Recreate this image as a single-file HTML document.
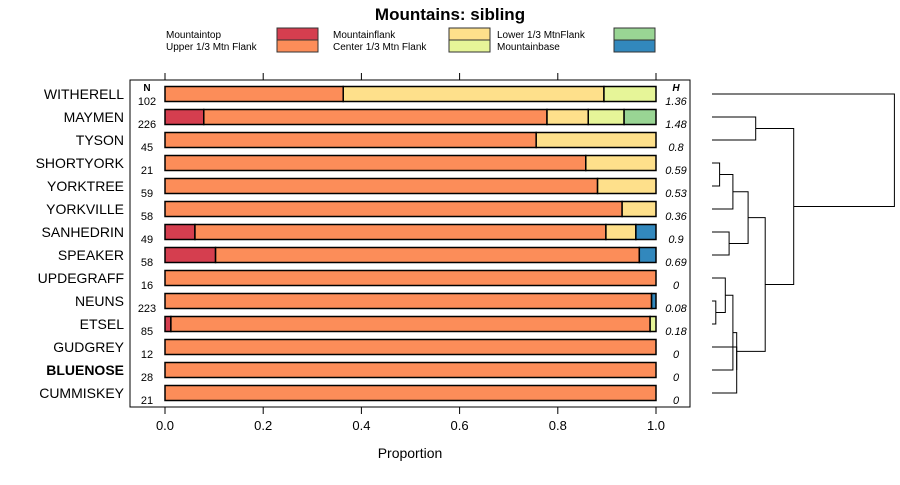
<!DOCTYPE html>
<html><head><meta charset="utf-8"><style>
body{margin:0;background:#fff;font-family:"Liberation Sans",sans-serif;}
</style></head><body>
<svg id="chart" width="900" height="480" xmlns="http://www.w3.org/2000/svg" font-family="Liberation Sans, sans-serif">
<text x="450" y="20" text-anchor="middle" font-size="17" font-weight="bold">Mountains: sibling</text>
<g id="legend"></g>
<rect x="130" y="80" width="560" height="327" fill="none" stroke="#000" stroke-width="1"/>
<g id="bars"></g>
<g id="axes"></g>
<g id="dendro"></g>
<text x="410" y="458" text-anchor="middle" font-size="14">Proportion</text>
</svg>
<script>
const categories = ["WITHERELL","MAYMEN","TYSON","SHORTYORK","YORKTREE","YORKVILLE","SANHEDRIN","SPEAKER","UPDEGRAFF","NEUNS","ETSEL","GUDGREY","BLUENOSE","CUMMISKEY"];
const nValues = [102,226,45,21,59,58,49,58,16,223,85,12,28,21];
const hValues = ["1.36","1.48","0.8","0.59","0.53","0.36","0.9","0.69","0","0.08","0.18","0","0","0"];
const seriesNames = ["Mountaintop","Upper 1/3 Mtn Flank","Mountainflank","Center 1/3 Mtn Flank","Lower 1/3 MtnFlank","Mountainbase"];
const seriesColors = ["#D53E4F","#FC8D59","#FEE08B","#E6F598","#99D594","#3288BD"];
const mountaintop = [0,0.079,0,0,0,0,0.061,0.103,0,0,0.012,0,0,0];
const upperFlank  = [0.363,0.699,0.756,0.857,0.881,0.931,0.837,0.863,1,0.991,0.976,1,1,1];
const mountainflank=[0.531,0.084,0.244,0.143,0.119,0.069,0.061,0,0,0,0,0,0,0];
const centerFlank = [0.106,0.073,0,0,0,0,0,0,0,0,0.012,0,0,0];
const lowerFlank  = [0,0.065,0,0,0,0,0,0,0,0,0,0,0,0];
const mountainbase= [0,0,0,0,0,0,0.041,0.034,0,0.009,0,0,0,0];
const xTicks = [0,0.2,0.4,0.6,0.8,1.0];
const xTickLabels = ["0.0","0.2","0.4","0.6","0.8","1.0"];
// dendrogram merges: [a,b,height]; negative = leaf index (1-based), positive = merge index (1-based)
const merges = [[-10,-11,0.02],[-4,-5,0.04],[-9,1,0.07],[-12,-14,0.13],[-7,-8,0.09],[2,-6,0.11],[3,-13,0.11],[7,4,0.13],[6,5,0.19],[-2,-3,0.23],[9,8,0.28],[10,11,0.43],[-1,12,0.96]];
const series=[mountaintop,upperFlank,mountainflank,centerFlank,lowerFlank,mountainbase];
const NS="http://www.w3.org/2000/svg";
function mk(p,tag,attrs){const e=document.createElementNS(NS,tag);for(const k in attrs)e.setAttribute(k,attrs[k]);p.appendChild(e);return e;}
const X=v=>165+v*491, Y=i=>94+i*23;
const bars=document.getElementById('bars'), axes=document.getElementById('axes'), lg=document.getElementById('legend'), dg=document.getElementById('dendro');
const legLabelX=[166,333,497], legSwatchX=[277,449,614];
seriesNames.forEach((n,k)=>{const col=Math.floor(k/2),row=k%2;const ly=38+row*12;
 const t=mk(lg,'text',{x:legLabelX[col],y:ly,'font-size':'10'});t.textContent=n;
 
 const r=mk(lg,'rect',{x:legSwatchX[col],y:ly-10,width:41,height:12,fill:seriesColors[k],stroke:'#333','stroke-width':1});
 });
categories.forEach((c,i)=>{const y=Y(i);
 const t=mk(axes,'text',{x:124,y:y+5,'text-anchor':'end','font-size':'14','font-weight':c==='BLUENOSE'?'bold':'normal'});t.textContent=c;
 
 const nt=mk(axes,'text',{x:147,y:y+11,'text-anchor':'middle','font-size':'11'});nt.textContent=nValues[i];
 
 const ht=mk(axes,'text',{x:676,y:y+11,'text-anchor':'middle','font-size':'11','font-style':'italic'});ht.textContent=hValues[i];
 
 let cum=0;series.forEach((s,k)=>{const v=s[i];if(v<=0)return;
  const r=mk(bars,'rect',{x:X(cum),y:y-7.5,width:X(cum+v)-X(cum),height:15,fill:seriesColors[k],stroke:'#000','stroke-width':1.5});
  cum+=v;});
});
let nt=mk(axes,'text',{x:147,y:91,'text-anchor':'middle','font-size':'10','font-weight':'bold'});nt.textContent='N';

let hh=mk(axes,'text',{x:676,y:91,'text-anchor':'middle','font-size':'10','font-weight':'bold','font-style':'italic'});hh.textContent='H';

xTicks.forEach((v,k)=>{mk(axes,'line',{x1:X(v),x2:X(v),y1:407,y2:414,stroke:'#000'});mk(axes,'line',{x1:X(v),x2:X(v),y1:73,y2:80,stroke:'#000'});
 const t=mk(axes,'text',{x:X(v),y:430,'text-anchor':'middle','font-size':'13'});t.textContent=xTickLabels[k];
 });
const DX=h=>712+h*190;const pos=[];
function node(id){if(id<0)return {y:Y(-id-1),h:0};return pos[id-1];}
merges.forEach(([a,b,h])=>{const A=node(a),B=node(b);
 const p=mk(dg,'path',{d:`M${DX(A.h)},${A.y}H${DX(h)}V${B.y}H${DX(B.h)}`,fill:'none',stroke:'#000','stroke-width':1});
 
 pos.push({y:(A.y+B.y)/2,h:h});});
</script>
</body></html>
